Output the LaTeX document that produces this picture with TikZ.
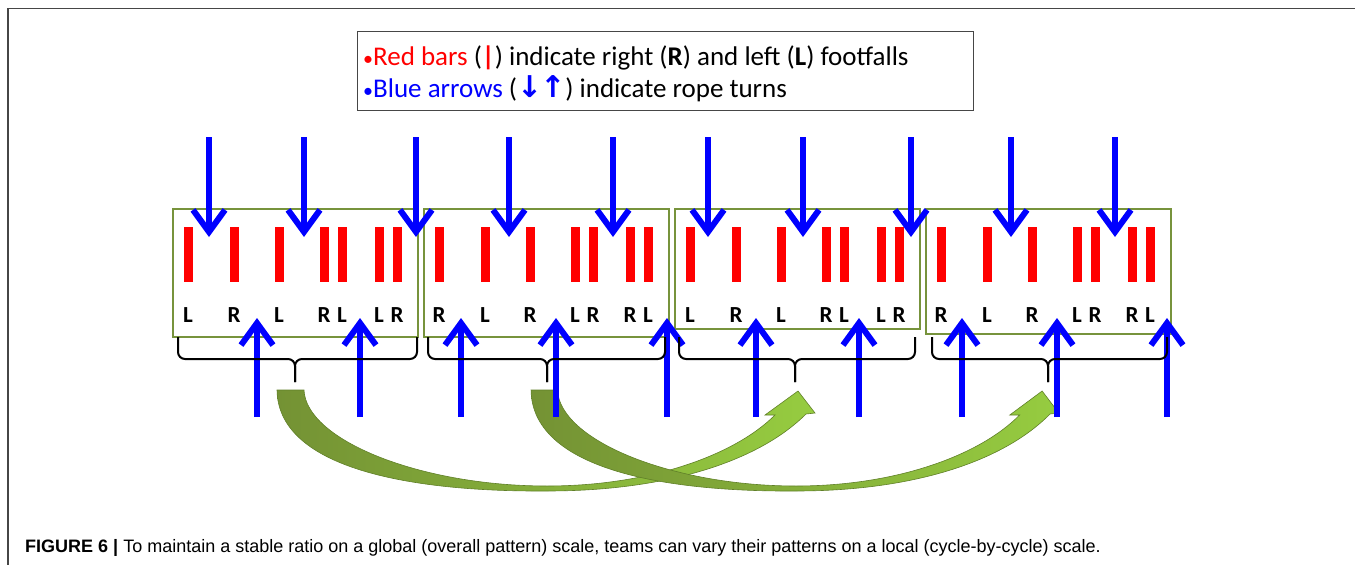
\documentclass[tikz,border=0pt]{standalone}
\usepackage{fontspec}
\setmainfont{Carlito}
\newfontfamily\capfont{Liberation Sans}
\newfontfamily\symfont{DejaVu Sans}
\usetikzlibrary{arrows.meta}
\definecolor{boxgreen}{RGB}{119,147,60}
\definecolor{gdark}{RGB}{116,146,52}
\definecolor{glight}{RGB}{150,204,64}
\definecolor{goutline}{RGB}{96,128,40}
\definecolor{framegray}{RGB}{70,70,70}
\begin{document}
\begin{tikzpicture}[x=1pt,y=-1pt,
  turn/.style={draw=blue, line width=6pt, -{Straight Barb[length=22pt,width=32pt]}},
  redbar/.style={fill=red, draw=none, minimum width=9pt, minimum height=55pt, inner sep=0pt, anchor=north},
  foot/.style={font=\fontsize{23}{27}\selectfont\bfseries, inner sep=0pt, anchor=base},
  cyclebox/.style={draw=boxgreen, line width=1.5pt, inner sep=0pt, minimum width=245pt, anchor=north west},
  bracepath/.style={draw=black, line width=2pt, rounded corners=7pt},
  greenarrow/.style={left color=gdark, right color=glight, draw=goutline, line width=0.6pt},
  legendtext/.style={anchor=base west, inner sep=0pt, font=\fontsize{27}{32}\selectfont}
]
\useasboundingbox (0,0) rectangle (1355,565);
% outer frame (top and left only)
\coordinate (fbl) at (8,565);
\coordinate (ftl) at (8,8.5);
\coordinate (ftr) at (1355,8.5);
\draw[framegray, line width=1.5pt] (fbl) -- (ftl) -- (ftr);

% legend
\node[draw=framegray, line width=1.2pt, minimum width=616pt, minimum height=79pt, inner sep=0pt, anchor=north west] (legend) at (357,31) {};
\node[legendtext] (leg1) at (363,65) {{\color{red}{\fontsize{20}{24}\selectfont•}Red bars} (\textbf{\color{red}|}) indicate right (\textbf{R}) and left (\textbf{L}) footfalls};
\node[legendtext] (leg2) at (363,97) {{\color{blue}{\fontsize{20}{24}\selectfont•}Blue arrows} ({\symfont\bfseries\color{blue}\fontsize{30}{32}\selectfont↓\kern-2pt↑}) indicate rope turns};

% cycle boxes
\node[cyclebox, minimum height=128pt] (b1) at (172,208) {};
\node[cyclebox, minimum height=128pt] (b2) at (423,208) {};
\node[cyclebox, minimum height=120pt] (b3) at (674,208) {};
\node[cyclebox, minimum height=125pt] (b4) at (925,208) {};

% bars and footfall letters
\foreach \bx/\pat in {172/a, 423/b, 674/a, 925/b}{
  \foreach \off/\la/\lb in {16/L/R, 62/R/L, 107/L/R, 152/R/L, 170/L/R, 207/L/R, 225/R/L}{
    \node[redbar] (bar-\bx-\off) at (\bx+\off,227) {};
    \node[foot] (ft-\bx-\off) at (\bx+\off,322) {\if a\pat \la\else \lb\fi};
  }
}

% green curved arrows
\shadedraw[greenarrow]
  (277,390) .. controls (278,465) and (400,492) .. (547,491)
  .. controls (670,491) and (760,460) .. (806,414)
  -- (815,413) -- (798,391) -- (765,415) -- (775,415)
  .. controls (735,455) and (650,486) .. (547,486)
  .. controls (420,486) and (306,440) .. (304,390) -- cycle;
\begin{scope}[xshift=259.3pt, xscale=0.981]
\shadedraw[greenarrow]
  (277,390) .. controls (278,465) and (400,492) .. (547,491)
  .. controls (670,491) and (760,460) .. (806,414)
  -- (815,413) -- (798,391) -- (765,415) -- (775,415)
  .. controls (735,455) and (650,486) .. (547,486)
  .. controls (420,486) and (306,440) .. (304,390) -- cycle;
\end{scope}

% rope turns: down arrows
\foreach \x in {209,304,416,509,613,708,803,911,1011,1115}{
  \coordinate (ds\x) at (\x,137);
  \coordinate (de\x) at (\x,237);
  \draw[turn] (ds\x) -- (de\x);
}
% rope turns: up arrows
\foreach \x in {257,360,461,556,667,756,859,962,1057,1167}{
  \coordinate (us\x) at (\x,417);
  \coordinate (ue\x) at (\x,318);
  \draw[turn] (us\x) -- (ue\x);
}

% braces
\foreach \xa/\xc/\xb in {178/295/417, 428/547/665, 679/795/915, 932/1048/1167}{
  \coordinate (bl\xc) at (\xa,337);
  \coordinate (br\xc) at (\xb,337);
  \coordinate (bt\xc) at (\xc,382);
  \draw[bracepath] (bl\xc) |- (\xc,359) -- (bt\xc);
  \draw[bracepath] (br\xc) |- (\xc,359) -- (bt\xc);
}

% caption
\node[anchor=base west, inner sep=0pt, font=\capfont\fontsize{18}{21}\selectfont] (caption) at (25,552)
  {\textbf{FIGURE 6 |} To maintain a stable ratio on a global (overall pattern) scale, teams can vary their patterns on a local (cycle-by-cycle) scale.};
\end{tikzpicture}
\end{document}
